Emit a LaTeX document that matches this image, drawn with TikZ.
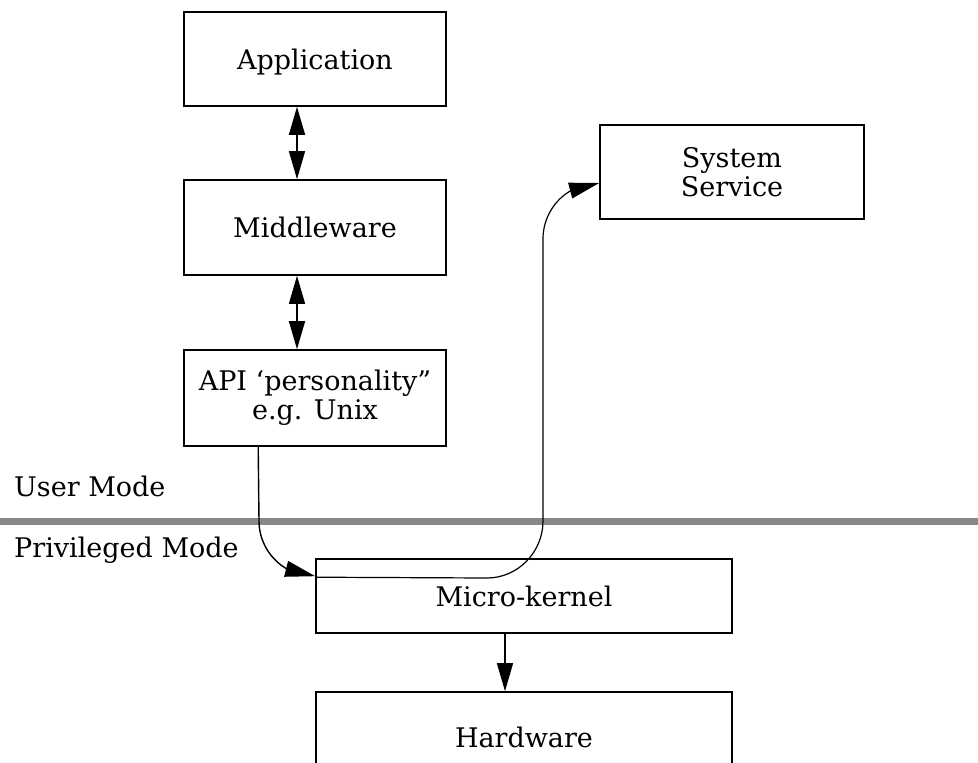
\documentclass[tikz,border=0pt]{standalone}
\usepackage{fontspec}
\setmainfont{DejaVu Serif}
\usetikzlibrary{arrows.meta,bending,calc}
\definecolor{bandgray}{HTML}{888888}
\begin{document}
\begin{tikzpicture}[x=1pt,y=-1pt,
  box/.style={draw=black, line width=1.6pt, inner sep=0pt,
    font=\fontsize{27}{29}\selectfont, align=center},
  lbl/.style={inner sep=0pt, font=\fontsize{27}{29}\selectfont},
  flow/.style={line width=1.4pt, -{Triangle[length=30pt,width=16pt]}},
  both/.style={line width=1.4pt, {Triangle[length=28pt,width=16pt]}-{Triangle[length=28pt,width=16pt]}},
  down/.style={line width=1.4pt, -{Triangle[length=28pt,width=16pt]}}]
\useasboundingbox (0,0) rectangle (978,763);
\clip (0,0) rectangle (978,763);

% user / privileged boundary
\draw[bandgray, line width=7pt] (0,521) -- (978,521);
\node[lbl, anchor=base west] (um) at (14,496) {User Mode};
\node[lbl, anchor=base west] (pm) at (14,557) {Privileged Mode};

% user-mode stack
\node[box, minimum width=262pt, minimum height=94pt, text height=20pt, text depth=0pt] (app) at (315,59) {Application};
\node[box, minimum width=262pt, minimum height=95pt, text height=20pt, text depth=0pt] (mw) at (315,227.5) {Middleware};
\node[box, minimum width=262pt, minimum height=96pt] (api) at (315,398) {API ‘personality”\\e.g. Unix};

% system service
\node[box, minimum width=264pt, minimum height=94pt] (ss) at (732,172) {System\\Service};

% kernel and hardware
\node[box, minimum width=416pt, minimum height=74pt, text height=20pt, text depth=0pt] (mk) at (524,596) {Micro-kernel};
\node[box, minimum width=416pt, minimum height=90pt, text height=20pt, text depth=0pt] (hw) at (524,737) {Hardware};

% connectors
\draw[both] ([xshift=-18pt]app.south) -- ([xshift=-18pt]mw.north);
\draw[both] ([xshift=-18pt]mw.south) -- ([xshift=-18pt]api.north);
\draw[down] ([xshift=-19pt]mk.south) -- ([xshift=-19pt]hw.north);

\draw[flow] ([xshift=75pt]api.south west) -- (259,521)
  .. controls (259,552) and (285,577) .. ([yshift=-18pt]mk.north west);
\draw[flow, line width=1.2pt] ([yshift=-19pt]mk.north west) -- (487,578)
  .. controls (518,578) and (543,552) .. (543,521) -- (543,239)
  .. controls (543,208) and (568,183) .. ([yshift=-11pt]ss.west);
\end{tikzpicture}
\end{document}
